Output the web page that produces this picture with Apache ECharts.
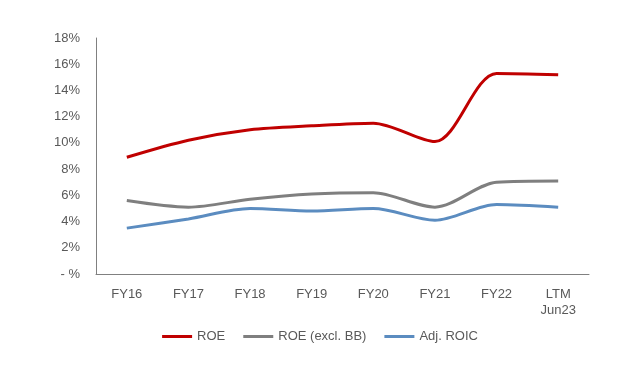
<!DOCTYPE html>
<html><head><meta charset="utf-8">
<script src="https://cdn.jsdelivr.net/npm/echarts@6/dist/echarts.min.js"></script>
<style>html,body{margin:0;padding:0;background:#fff}#c{width:640px;height:386px}</style>
</head><body><div id="c"></div>
<script>
const categories = ['FY16','FY17','FY18','FY19','FY20','FY21','FY22','LTM\nJun23'];
const roe = [8.9, 10.2, 11.0, 11.3, 11.5, 10.1, 15.3, 15.2];
const roeExclBB = [5.6, 5.1, 5.7, 6.1, 6.2, 5.1, 7.0, 7.1];
const adjRoic = [3.5, 4.2, 5.0, 4.8, 5.0, 4.1, 5.3, 5.1];
const seriesNames = ['ROE', 'ROE (excl. BB)', 'Adj. ROIC'];

const chart = echarts.init(document.getElementById('c'), null, {renderer:'canvas'});
const font = 'Liberation Sans, Arial, sans-serif';
const mk = (name, data, color) => ({
  name, type:'line', data, smooth:0.3, symbol:'none',
  lineStyle:{color, width:3}, itemStyle:{color}
});
chart.setOption({
  animation:false,
  grid:{left:96, top:38, right:51, bottom:112},
  legend:{
    bottom:38, left:'center', itemWidth:30, itemHeight:3, itemGap:18,
    icon:'rect',
    textStyle:{color:'#595959', fontSize:13, fontFamily:font},
    data:seriesNames
  },
  xAxis:{
    type:'category', data:categories, boundaryGap:true,
    axisLine:{lineStyle:{color:'#808080', width:1}},
    axisTick:{show:false},
    axisLabel:{color:'#595959', fontSize:13, fontFamily:font, margin:12, lineHeight:16}
  },
  yAxis:{
    type:'value', min:0, max:18, interval:2,
    splitLine:{show:false},
    axisLine:{show:true, lineStyle:{color:'#808080', width:1}},
    axisTick:{show:false},
    axisLabel:{color:'#595959', fontSize:13, fontFamily:font, margin:16,
      formatter:v => v === 0 ? '- %' : v + '%'}
  },
  series:[
    mk(seriesNames[0], roe, '#C00000'),
    mk(seriesNames[1], roeExclBB, '#7F7F7F'),
    mk(seriesNames[2], adjRoic, '#5B8CC0')
  ]
});
</script></body></html>
